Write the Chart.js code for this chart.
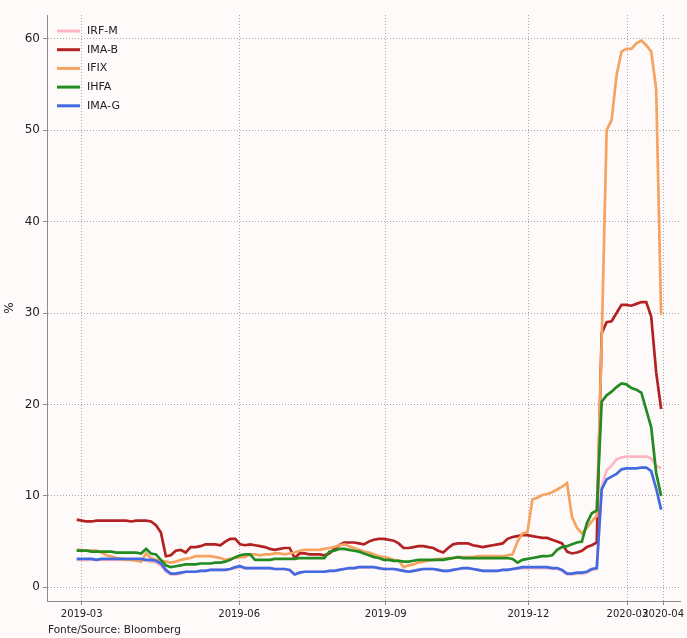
<!DOCTYPE html>
<html>
<head>
<meta charset="utf-8">
<script src="https://cdn.jsdelivr.net/npm/chart.js@4"></script>
<style>
  html, body { margin: 0; padding: 0; background: #fffafa; overflow: hidden; }
  #grafico { display: block; }
</style>
</head>
<body>
<canvas id="grafico" width="687" height="638"></canvas>
<script>
// ================= DADOS =================
// indice de amostra (uma observacao a cada passo do eixo)
const nomes = ['IRF-M', 'IMA-B', 'IFIX', 'IHFA', 'IMA-G'];
const cores = ['#ffb6c1', '#b22222', '#f4a460', '#228b22', '#4169e1'];

const irfm = [3.0,3.0,3.0,3.0,3.0,3.0,3.0,3.0,3.0,3.0,3.0,3.0,3.0,3.0,2.9,2.8,2.7,2.4,1.7,1.4,1.4,1.5,1.7,1.7,1.7,1.8,1.8,1.9,1.9,1.9,
  1.9,2.0,2.1,2.2,2.1,2.1,2.1,2.1,2.1,2.1,2.0,2.0,2.0,1.9,1.4,1.6,1.7,1.7,1.7,1.7,1.7,1.8,1.8,1.9,2.0,2.1,2.1,2.2,2.2,2.2,
  2.2,2.1,2.0,2.0,2.0,1.9,1.8,1.7,1.8,1.9,2.0,2.0,2.0,1.9,1.8,1.8,1.9,2.0,2.1,2.1,2.0,1.9,1.8,1.8,1.8,1.8,1.9,1.9,2.0,2.0,
  2.1,2.1,2.1,2.1,2.1,2.1,2.0,2.0,1.8,1.4,1.4,1.5,1.5,1.6,1.9,2.0,11.0,12.8,13.3,14.0,14.2,14.3,14.3,14.3,14.3,14.3,14.1,13.3,13.0];

const imab = [7.4,7.3,7.2,7.2,7.3,7.3,7.3,7.3,7.3,7.3,7.3,7.2,7.3,7.3,7.3,7.2,6.8,6.0,3.4,3.5,4.0,4.1,3.8,4.4,4.4,4.5,4.7,4.7,4.7,4.6,
  5.0,5.3,5.3,4.7,4.6,4.7,4.6,4.5,4.4,4.2,4.1,4.2,4.3,4.3,3.2,3.7,3.7,3.6,3.6,3.6,3.5,3.7,4.2,4.6,4.9,4.9,4.9,4.8,4.7,5.0,
  5.2,5.3,5.3,5.2,5.1,4.8,4.3,4.3,4.4,4.5,4.5,4.4,4.3,4.0,3.8,4.3,4.7,4.8,4.8,4.8,4.6,4.5,4.4,4.5,4.6,4.7,4.8,5.3,5.5,5.6,
  5.7,5.7,5.6,5.5,5.4,5.4,5.2,5.0,4.8,3.9,3.7,3.8,4.0,4.4,4.6,4.9,27.8,29.0,29.1,30.0,30.9,30.9,30.8,31.0,31.2,31.2,29.6,23.5,19.5];

const ifix = [4.1,4.1,4.0,4.0,4.0,3.8,3.5,3.4,3.2,3.1,3.0,3.0,2.9,2.8,3.7,3.2,3.0,2.9,2.8,2.7,2.8,3.0,3.1,3.2,3.4,3.4,3.4,3.4,3.3,3.2,
  3.0,3.1,3.2,3.3,3.3,3.6,3.6,3.5,3.6,3.6,3.7,3.7,3.6,3.7,3.8,4.0,4.1,4.1,4.1,4.1,4.2,4.3,4.4,4.6,4.7,4.5,4.3,4.1,3.9,3.8,
  3.6,3.4,3.3,3.2,3.0,2.9,2.2,2.4,2.5,2.7,2.8,2.9,3.0,3.1,3.1,3.2,3.2,3.3,3.3,3.3,3.3,3.4,3.4,3.4,3.4,3.4,3.4,3.5,3.6,5.0,
  5.9,6.0,9.6,9.8,10.1,10.2,10.4,10.7,11.0,11.4,7.7,6.5,5.9,6.5,7.2,7.8,27.0,50.0,51.1,56.0,58.6,58.9,58.9,59.5,59.8,59.3,58.6,54.5,29.8];

const ihfa = [4.0,4.0,4.0,3.9,3.9,3.9,3.9,3.9,3.8,3.8,3.8,3.8,3.8,3.7,4.2,3.7,3.6,3.0,2.4,2.2,2.3,2.4,2.5,2.5,2.5,2.6,2.6,2.6,2.7,2.7,
  2.8,3.0,3.3,3.5,3.6,3.6,3.0,3.0,3.0,3.0,3.1,3.1,3.1,3.1,3.1,3.2,3.2,3.2,3.2,3.2,3.2,3.9,4.0,4.2,4.2,4.1,4.0,3.9,3.7,3.5,
  3.3,3.2,3.0,3.0,2.9,2.9,2.8,2.8,2.9,3.0,3.0,3.0,3.0,3.0,3.0,3.1,3.2,3.3,3.2,3.2,3.2,3.2,3.2,3.2,3.2,3.2,3.2,3.2,3.1,2.7,
  3.0,3.1,3.2,3.3,3.4,3.4,3.5,4.1,4.4,4.5,4.7,4.9,5.0,7.0,8.1,8.4,20.3,21.0,21.4,21.9,22.3,22.2,21.8,21.6,21.3,19.4,17.5,12.5,10.0];

const imag = [3.1,3.1,3.1,3.1,3.0,3.1,3.1,3.1,3.1,3.1,3.1,3.1,3.1,3.1,3.0,3.0,2.9,2.6,1.9,1.5,1.5,1.6,1.7,1.7,1.7,1.8,1.8,1.9,1.9,1.9,
  1.9,2.0,2.2,2.3,2.1,2.1,2.1,2.1,2.1,2.1,2.0,2.0,2.0,1.9,1.4,1.6,1.7,1.7,1.7,1.7,1.7,1.8,1.8,1.9,2.0,2.1,2.1,2.2,2.2,2.2,
  2.2,2.1,2.0,2.0,2.0,1.9,1.8,1.7,1.8,1.9,2.0,2.0,2.0,1.9,1.8,1.8,1.9,2.0,2.1,2.1,2.0,1.9,1.8,1.8,1.8,1.8,1.9,1.9,2.0,2.1,
  2.2,2.2,2.2,2.2,2.2,2.2,2.1,2.1,1.9,1.5,1.5,1.6,1.6,1.7,2.0,2.1,10.7,11.8,12.1,12.4,12.9,13.0,13.0,13.0,13.1,13.1,12.7,10.8,8.5];

// ticks do eixo x (posicao no indice de amostras) e do eixo y
const xTickPos = [1, 32.8, 62.4, 91.2, 111.2, 118.4];
const xTickLabels = ['2019-03', '2019-06', '2019-09', '2019-12', '2020-03', '2020-04'];
const yTicks = [0, 10, 20, 30, 40, 50, 60];

const series = [irfm, imab, ifix, ihfa, imag];

// ================= GRAFICO =================
const FONTE = "'DejaVu Sans', sans-serif";
Chart.defaults.font.family = FONTE;
Chart.defaults.color = '#222';

const gradeCor = '#a8a8a8';
const eixoCor = '#8c8c8c';

// Fundo, legenda, titulo do eixo y e fonte
const extras = {
  id: 'extras',
  beforeDraw(chart) {
    const c = chart.ctx;
    c.save();
    c.fillStyle = '#fffafa';
    c.fillRect(0, 0, chart.width, chart.height);
    c.restore();
  },
  afterDraw(chart) {
    const c = chart.ctx;
    c.save();
    // legenda
    c.font = '11px ' + FONTE;
    c.textBaseline = 'middle';
    nomes.forEach((nome, k) => {
      const y = 31 + 18.7 * k;
      c.strokeStyle = cores[k];
      c.lineWidth = 3;
      c.beginPath();
      c.moveTo(57, y);
      c.lineTo(80, y);
      c.stroke();
      c.fillStyle = '#222';
      c.fillText(nome, 87, y);
    });
    // titulo do eixo y
    c.font = '12px ' + FONTE;
    c.textAlign = 'center';
    c.translate(10, 308);
    c.rotate(-Math.PI / 2);
    c.fillText('%', 0, 0);
    c.restore();
    // fonte
    c.save();
    c.font = '10.5px ' + FONTE;
    c.fillStyle = '#222';
    c.textBaseline = 'alphabetic';
    c.fillText('Fonte/Source: Bloomberg', 48, 633);
    c.restore();
  }
};

const eixoGrade = {
  color: gradeCor,
  lineWidth: 1,
  tickLength: 4,
  tickColor: eixoCor,
  tickBorderDash: []
};

new Chart(document.getElementById('grafico'), {
  type: 'line',
  data: {
    datasets: series.map((dados, k) => ({
      label: nomes[k],
      data: dados.map((v, i) => ({ x: i, y: v })),
      borderColor: cores[k],
      backgroundColor: cores[k],
      borderWidth: 2.7,
      pointRadius: 0,
      tension: 0,
      fill: false,
      order: nomes.length - k // IMA-G por cima, como no original
    }))
  },
  options: {
    responsive: false,
    animation: false,
    devicePixelRatio: 1,
    layout: { padding: { top: 15, left: 0, right: 0, bottom: 0 } },
    plugins: {
      legend: { display: false },
      tooltip: { enabled: false }
    },
    scales: {
      x: {
        type: 'linear',
        min: -6,
        max: 122,
        afterBuildTicks: (s) => { s.ticks = xTickPos.map(v => ({ value: v })); },
        afterFit: (s) => { s.height = 37; },
        ticks: {
          autoSkip: false,
          maxRotation: 0,
          padding: 3,
          font: { size: 10 },
          callback: (v, i) => xTickLabels[i]
        },
        grid: eixoGrade,
        border: { display: true, color: eixoCor, width: 1, dash: [1, 2] }
      },
      y: {
        type: 'linear',
        min: -1.5,
        max: 62.6,
        afterBuildTicks: (s) => { s.ticks = yTicks.map(v => ({ value: v })); },
        afterFit: (s) => { s.width = 47; },
        ticks: {
          padding: 3,
          font: { size: 12 }
        },
        grid: eixoGrade,
        border: { display: true, color: eixoCor, width: 1, dash: [1, 2] }
      }
    }
  },
  plugins: [extras]
});
</script>
</body>
</html>
